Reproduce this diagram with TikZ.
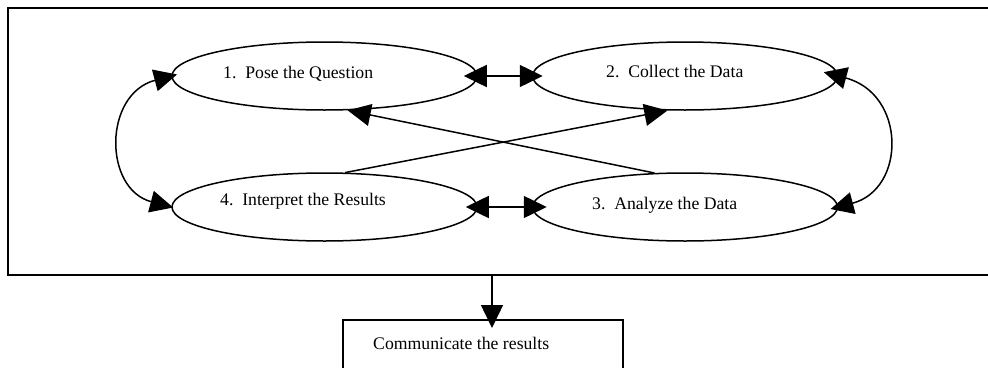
\documentclass[tikz,border=0pt]{standalone}
\usepackage{fontspec}
\setmainfont{Liberation Serif}
\usetikzlibrary{arrows.meta,shapes.geometric}

\begin{document}
\begin{tikzpicture}[x=1pt, y=-1pt,
    oval/.style={draw, ellipse, line width=1.5pt, minimum width=305pt, minimum height=68pt, inner sep=0pt},
    steptext/.style={anchor=west, inner sep=0pt, font=\fontsize{17.7}{20}\selectfont},
    twoway/.style={{Triangle[length=23pt,width=22pt]}-{Triangle[length=23pt,width=22pt]}, line width=1.5pt},
    oneway/.style={-{Triangle[length=23pt,width=22pt]}, line width=1.5pt}]
    \clip (0,0) rectangle (988,367);
    \draw[line width=2pt] (1000,8) -- (8,8) -- (8,275) -- (1000,275);
    \coordinate (fb) at (492,275);
    \foreach \n/\x/\y in {p1/324.5/76, p2/685/76, p3/685/207, p4/324.5/207}
        \node[oval] (\n) at (\x,\y) {};
    \node[steptext] (t1) at (223,74) {1.~~Pose the Question};
    \node[steptext] (t2) at (606,71) {2.~~Collect the Data};
    \node[steptext] (t3) at (592,205) {3.~~Analyze the Data};
    \node[steptext] (t4) at (220,201) {4.~~Interpret the Results};
    \draw[twoway, shorten <=-14pt, shorten >=-11pt] (p1.east) -- (p2.west);
    \draw[twoway, shorten <=-12pt, shorten >=-15pt] (p4.east) -- (p3.west);
    \draw[twoway, shorten <=-6pt, shorten >=-2pt] (p1.west) .. controls +(-68,18) and +(-68,-18) .. (p4.west);
    \draw[twoway, shorten <=-15pt, shorten >=-8pt] (p2.east) .. controls +(68,18) and +(68,-18) .. (p3.east);
    \draw[oneway] (p3.132) -- (p1.304);
    \draw[oneway] (p4.59) -- (p2.243);
    \node[draw, line width=1.7pt, minimum width=280pt, minimum height=90pt, anchor=north west, inner sep=0pt] (comm) at (342,319) {};
    \node[steptext] (commtext) at (373,343) {Communicate the results};
    \draw[oneway, shorten >=-9pt] (fb) -- (comm.north -| fb);
\end{tikzpicture}
\end{document}
